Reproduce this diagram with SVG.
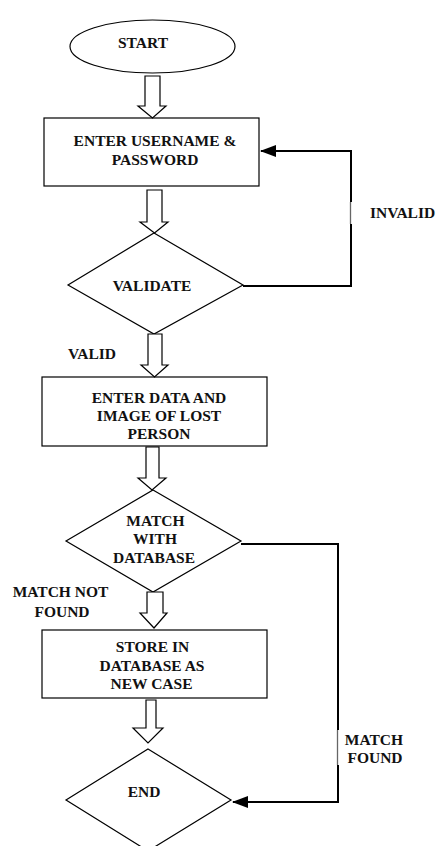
<svg xmlns="http://www.w3.org/2000/svg" width="438" height="846" viewBox="0 0 438 846">
<style>
  .shape { fill: #fff; stroke: #000; stroke-width: 1.2; }
  .barrow { fill: #fff; stroke: #000; stroke-width: 1.2; stroke-linejoin: miter; }
  .t { font-family: "Liberation Serif", "Times New Roman", serif; font-weight: bold; font-size: 15.5px; fill: #111; }
  .c { text-anchor: middle; }
  .line { fill: none; stroke: #000; stroke-width: 2; }
  .gray { fill: none; stroke: #666; stroke-width: 1.3; }
</style>
<defs>
  <marker id="ah" markerWidth="16" markerHeight="12" refX="15" refY="6" orient="auto" markerUnits="userSpaceOnUse">
    <path d="M0,0 L16,6 L0,12 Z" fill="#000"/>
  </marker>
</defs>
<rect width="438" height="846" fill="#fff"/>

<g id="start">
  <ellipse class="shape" cx="152.5" cy="46.5" rx="82.5" ry="26.5"/>
  <text class="t c" x="143" y="48">START</text>
</g>

<g id="login">
  <rect class="shape" x="44" y="118" width="215" height="68"/>
  <text class="t c" x="155" y="146">ENTER USERNAME &amp;</text>
  <text class="t c" x="155" y="165">PASSWORD</text>
</g>

<g id="validate">
  <polygon class="shape" points="154,233 243,285 154,334 68,285"/>
  <text class="t c" x="152" y="291">VALIDATE</text>
</g>

<g id="enterdata">
  <rect class="shape" x="42" y="377" width="225" height="69"/>
  <text class="t c" x="159" y="403">ENTER DATA AND</text>
  <text class="t c" x="159" y="421">IMAGE OF LOST</text>
  <text class="t c" x="159" y="439">PERSON</text>
</g>

<g id="match">
  <polygon class="shape" points="153,490 241,541 153,592 66,541"/>
  <text class="t c" x="155.5" y="526">MATCH</text>
  <text class="t c" x="155" y="544">WITH</text>
  <text class="t c" x="154" y="563">DATABASE</text>
</g>

<g id="store">
  <rect class="shape" x="42" y="630" width="225" height="68"/>
  <text class="t c" x="152.5" y="652">STORE IN</text>
  <text class="t c" x="152" y="671">DATABASE AS</text>
  <text class="t c" x="151.5" y="689">NEW CASE</text>
</g>

<g id="end">
  <polygon class="shape" points="148,749 231,800 148,851 66,800"/>
  <text class="t c" x="144" y="797">END</text>
</g>

<g id="connectors">
  <path class="barrow" d="M145,76 L160,76 L160,106 L166,106 L152.5,118 L138,106 L145,106 Z"/>
  <path class="barrow" d="M147,190 L162,190 L162,222 L168,222 L154.5,233 L140,222 L147,222 Z"/>
  <path class="barrow" d="M148,334 L162,334 L162,365 L168,365 L154.5,377 L141,365 L148,365 Z"/>
  <path class="barrow" d="M146,447 L159,447 L159,478 L166,478 L152,490 L138,478 L146,478 Z"/>
  <path class="barrow" d="M147,592 L163,592 L163,613 L167,613 L154,628 L140,613 L147,613 Z"/>
  <path class="barrow" d="M146,700 L156,700 L156,728 L163,728 L148,743 L133,728 L146,728 Z"/>

  <path class="line" d="M243,286 L351,286 L351,224"/>
  <path class="line" d="M351,202 L351,151 L261,151" marker-end="url(#ah)"/>
  <path class="gray" d="M350.5,202 L350.5,224"/>

  <path class="line" d="M241,544 L338,544 L338,730"/>
  <path class="line" d="M338,765 L338,802 L233,802" marker-end="url(#ah)"/>
  <path class="gray" d="M337.5,730 L337.5,765"/>

  <text class="t" x="370" y="218">INVALID</text>
  <text class="t" x="68" y="359">VALID</text>
  <text class="t c" x="60.5" y="597">MATCH NOT</text>
  <text class="t c" x="62" y="617">FOUND</text>
  <text class="t c" x="374" y="745">MATCH</text>
  <text class="t c" x="375" y="763">FOUND</text>
</g>
</svg>
